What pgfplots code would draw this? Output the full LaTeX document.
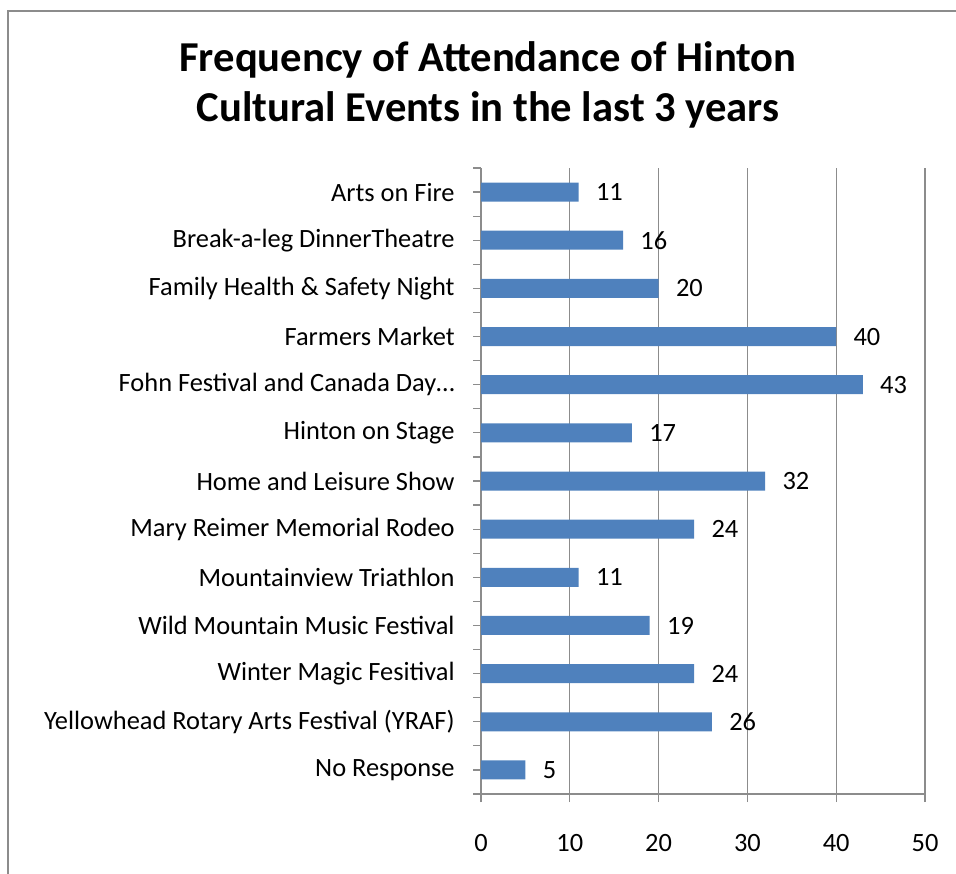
\documentclass[border=0pt]{standalone}
\usepackage{pgfplots}
\pgfplotsset{compat=1.18}
\usepackage{fontspec}
\setmainfont{Carlito}
\definecolor{barblue}{HTML}{4F81BD}
\definecolor{gridgray}{HTML}{8C8C8C}
\begin{document}
\begin{tikzpicture}
  % page = 956x873 px at 0.5pt per px
  \useasboundingbox (0,0) rectangle (478pt,436.5pt);
  \draw[gridgray, line width=0.7pt] (4pt,-20pt) -- (4pt,431pt) -- (500pt,431pt);
  \node[align=center, font=\fontsize{21.3}{25}\selectfont\bfseries] at (244pt,394pt)
    {Frequency of Attendance of Hinton\\Cultural Events in the last 3 years};
  \begin{axis}[
    at={(240.5pt,39.5pt)}, anchor=south west,
    scale only axis, width=222pt, height=313pt,
    xbar, bar width=9.5pt,
    xmin=0, xmax=50, ymin=-0.5, ymax=12.5,
    enlargelimits=false,
    y dir=reverse,
    axis x line=bottom, axis y line=left,
    axis line style={gridgray, line width=0.6pt, -},
    xtick={0,10,...,50},
    xmajorgrids, major grid style={gridgray, line width=0.6pt},
    % tick marks between categories
    ytick={-0.5,0.5,...,12.5}, yticklabels={},
    % category names at the bar centres
    extra y ticks={0,...,12},
    extra y tick labels={Arts on Fire, Break-a-leg DinnerTheatre, Family Health \& Safety Night,
      Farmers Market, Fohn Festival and Canada Day…, Hinton on Stage,
      Home and Leisure Show, Mary Reimer Memorial Rodeo, Mountainview Triathlon,
      Wild Mountain Music Festival, Winter Magic Fesitival,
      Yellowhead Rotary Arts Festival (YRAF), No Response},
    extra y tick style={draw=none},
    tick align=outside,
    major tick length=4pt,
    tick style={gridgray, line width=0.6pt},
    tick label style={font=\fontsize{13.2}{15}\selectfont, black},
    yticklabel style={anchor=east, inner sep=0pt, xshift=-9pt},
    xticklabel style={anchor=north, inner sep=0pt, yshift=-16pt},
    /pgf/number format/assume math mode=true,
    nodes near coords,
    nodes near coords style={font=\fontsize{13.2}{15}\selectfont, anchor=west, inner sep=0pt, xshift=8.5pt},
  ]
    \addplot[fill=barblue, draw=none] coordinates {
      (11,0) (16,1) (20,2) (40,3) (43,4) (17,5) (32,6)
      (24,7) (11,8) (19,9) (24,10) (26,11) (5,12)
    };
  \end{axis}
\end{tikzpicture}
\end{document}
